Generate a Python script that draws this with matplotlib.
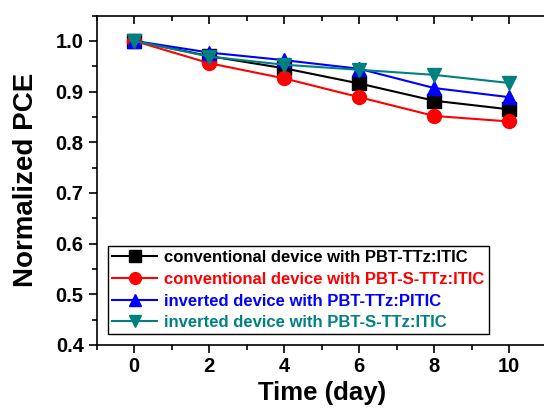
import matplotlib
matplotlib.use("Agg")
import matplotlib.pyplot as plt
from matplotlib.ticker import MultipleLocator

plt.rcParams["font.family"] = ["Liberation Sans", "DejaVu Sans"]
plt.rcParams["font.weight"] = "bold"

days = [0, 2, 4, 6, 8, 10]
conv_ttz = [1.0, 0.970, 0.946, 0.916, 0.882, 0.865]
conv_sttz = [1.0, 0.956, 0.926, 0.889, 0.852, 0.841]
inv_ttz = [1.0, 0.977, 0.962, 0.945, 0.907, 0.889]
inv_sttz = [1.0, 0.969, 0.953, 0.943, 0.933, 0.917]

series = [
    (conv_ttz, "black", "s", "conventional device with PBT-TTz:ITIC"),
    (conv_sttz, "red", "o", "conventional device with PBT-S-TTz:ITIC"),
    (inv_ttz, "blue", "^", "inverted device with PBT-TTz:PITIC"),
    (inv_sttz, "#008080", "v", "inverted device with PBT-S-TTz:ITIC"),
]

fig = plt.figure(figsize=(5.44, 4.17), dpi=100)
ax = fig.add_axes([0.178, 0.1727, 0.8265, 0.790])

for vals, col, mk, lab in series:
    ax.plot(days, vals, color=col, marker=mk, ms=10, lw=1.5, label=lab)

ax.set_xlim(-1, 11)
ax.set_ylim(0.4, 1.05)
ax.xaxis.set_major_locator(MultipleLocator(2))
ax.xaxis.set_minor_locator(MultipleLocator(1))
ax.yaxis.set_major_locator(MultipleLocator(0.1))
ax.yaxis.set_minor_locator(MultipleLocator(0.05))
ax.yaxis.set_major_formatter(matplotlib.ticker.FormatStrFormatter("%.1f"))
ax.tick_params(which="both", direction="out", labelsize=14.5, width=1.2)
ax.tick_params(which="major", length=6)
ax.tick_params(which="minor", length=3.5)
ax.tick_params(axis="x", top=True, which="both", pad=2.5)
for t in ax.xaxis.get_ticklines(minor=False)[1::2] + ax.xaxis.get_ticklines(minor=True)[1::2]:
    t.set_marker(matplotlib.lines.TICKDOWN)
for s in ax.spines.values():
    s.set_linewidth(1.2)
ax.spines["right"].set_visible(False)

ax.set_xlabel("Time (day)", fontsize=18.5, fontweight="heavy", labelpad=4)
ax.set_ylabel("Normalized PCE", fontsize=20, fontweight="heavy", labelpad=12)

leg = ax.legend(loc="lower left", bbox_to_anchor=(0.018, 0.022), fontsize=12,
                frameon=True, fancybox=False, edgecolor="black", framealpha=1,
                handlelength=2.7, handletextpad=0.4, labelspacing=0.4,
                borderpad=0.25, borderaxespad=0.2, markerscale=0.85)
leg.get_frame().set_linewidth(1.0)
for txt, (_, col, _, _) in zip(leg.get_texts(), series):
    txt.set_color(col)

fig.savefig("out.png", dpi=100)
